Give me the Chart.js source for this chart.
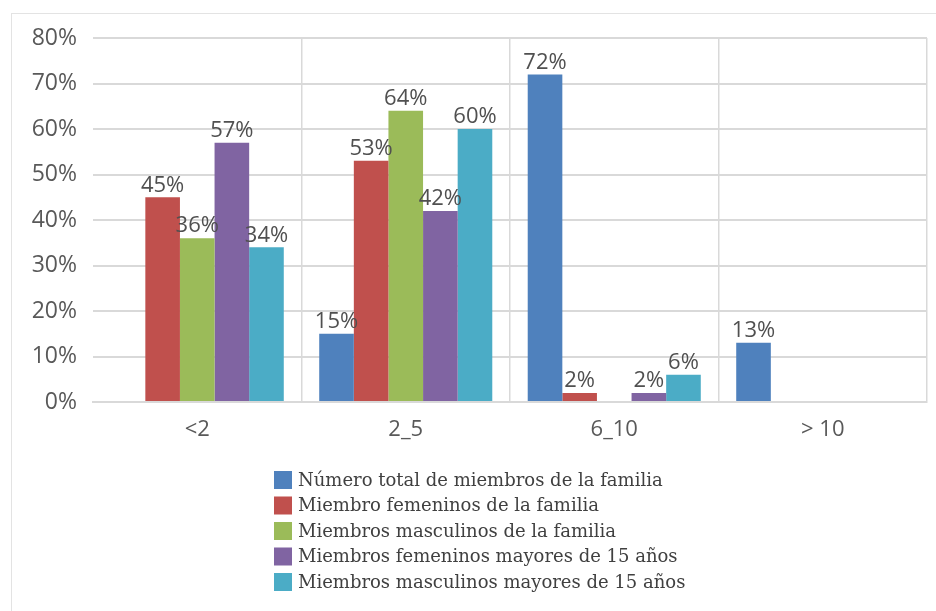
<!DOCTYPE html>
<html>
<head>
<meta charset="utf-8">
<script src="https://cdn.jsdelivr.net/npm/chart.js@4/dist/chart.umd.min.js"></script>
<style>
  html, body { margin: 0; padding: 0; background: #ffffff; }
  #wrap { width: 936px; height: 611px; position: relative; }
</style>
</head>
<body>
<div id="wrap"><canvas id="famChart" width="936" height="611"></canvas></div>
<script>
// categorias (tamaño de la familia)
const categorias = ['<2', '2_5', '6_10', '> 10'];

// valores en porcentaje
const totalMiembros = [0, 15, 72, 13];
const femeninos = [45, 53, 2, 0];
const masculinos = [36, 64, 0, 0];
const femeninos15 = [57, 42, 2, 0];
const masculinos15 = [34, 60, 6, 0];

const nombresSeries = [
    'Número total de miembros de la familia',
    'Miembro femeninos de la familia',
    'Miembros masculinos de la familia',
    'Miembros femeninos mayores de 15 años',
    'Miembros masculinos mayores de 15 años'
];
const coloresSeries = ['#4F81BD', '#C0504D', '#9BBB59', '#8064A2', '#4BACC6'];

const ticksY = [0, 10, 20, 30, 40, 50, 60, 70, 80];

const series = [totalMiembros, femeninos, masculinos, femeninos15, masculinos15];

// etiquetas encima de cada barra
const etiquetasPlugin = {
    id: 'etiquetas',
    afterDatasetsDraw(chart) {
        const ctx = chart.ctx;
        ctx.save();
        ctx.font = '22px "Open Sans"';
        ctx.fillStyle = '#505050';
        ctx.textAlign = 'center';
        ctx.textBaseline = 'bottom';
        chart.data.datasets.forEach((ds, i) => {
            const meta = chart.getDatasetMeta(i);
            meta.data.forEach((bar, j) => {
                const v = ds.data[j];
                if (!v) return;
                ctx.fillText(v + '%', bar.x, bar.y - 1);
            });
        });
        ctx.restore();
    }
};

// marco y leyenda vertical
const leyendaPlugin = {
    id: 'leyendaVertical',
    beforeDraw(chart) {
        const ctx = chart.ctx;
        ctx.save();
        ctx.strokeStyle = '#e3e3e3';
        ctx.lineWidth = 1;
        ctx.strokeRect(11.5, 13.5, 940, 620);
        ctx.restore();
    },
    afterDraw(chart) {
        const ctx = chart.ctx;
        ctx.save();
        ctx.font = '18px "DejaVu Serif"';
        ctx.textBaseline = 'middle';
        ctx.textAlign = 'left';
        chart.data.datasets.forEach((ds, i) => {
            const y = 480 + i * 25.5;
            ctx.fillStyle = ds.backgroundColor;
            ctx.fillRect(274, y - 9, 18, 18);
            ctx.fillStyle = '#404040';
            ctx.fillText(ds.label, 298, y + 1);
        });
        ctx.restore();
    }
};

const ctxFam = document.getElementById('famChart').getContext('2d');
const famChart = new Chart(ctxFam, {
    type: 'bar',
    data: {
        labels: categorias,
        datasets: series.map((d, i) => ({
            label: nombresSeries[i],
            data: d,
            backgroundColor: coloresSeries[i],
            borderWidth: 0,
            categoryPercentage: 0.83,
            barPercentage: 1
        }))
    },
    options: {
        responsive: false,
        animation: false,
        layout: { padding: { top: 38, right: 9, bottom: 150, left: 0 } },
        plugins: {
            legend: { display: false },
            tooltip: { enabled: false }
        },
        scales: {
            x: {
                grid: {
                    offset: true,
                    drawTicks: false,
                    color: (c) => (c.index === 0 || c.index === categorias.length) ? 'rgba(0,0,0,0)' : '#d9d9d9',
                    lineWidth: 1.5
                },
                border: { display: true, color: '#d9d9d9', width: 2 },
                ticks: {
                    padding: 15,
                    color: '#595959',
                    font: { family: 'Open Sans', size: 22 }
                },
                afterFit(scale) { scale.height = 59; }
            },
            y: {
                min: 0,
                max: 80,
                afterBuildTicks(scale) {
                    scale.ticks = ticksY.map(v => ({ value: v }));
                },
                grid: { drawTicks: false, color: '#d9d9d9', lineWidth: 2 },
                border: { display: false },
                ticks: {
                    padding: 16,
                    color: '#595959',
                    font: { family: 'Open Sans', size: 23 },
                    callback: (v) => v + '%'
                },
                afterFit(scale) { scale.width = 93; }
            }
        }
    },
    plugins: [etiquetasPlugin, leyendaPlugin]
});
</script>
</body>
</html>
